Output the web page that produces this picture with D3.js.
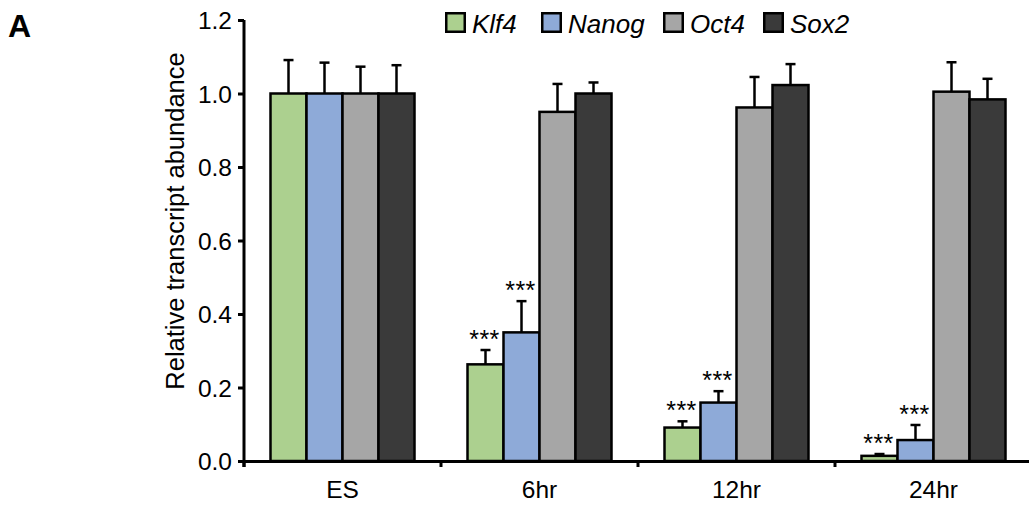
<!DOCTYPE html>
<html>
<head>
<meta charset="utf-8">
<script src="https://cdn.jsdelivr.net/npm/d3@7"></script>
<style>
  body { margin: 0; background: #fff; }
  svg { display: block; font-family: "Liberation Sans", Arial, sans-serif; }
</style>
</head>
<body>
<svg id="chart" width="1029" height="506"></svg>
<script>
// data
const groups = ['ES', '6hr', '12hr', '24hr'];
const genes = ['Klf4', 'Nanog', 'Oct4', 'Sox2'];
const colors = ['#acd08f', '#8eaad8', '#a6a6a6', '#3a3a3a'];
// mean per gene, one array per time point
const means = [
  [1.0, 1.0, 1.0, 1.0],
  [0.263, 0.350, 0.950, 1.0],
  [0.091, 0.159, 0.962, 1.023],
  [0.014, 0.057, 1.005, 0.984]
];
// top of error bar (mean + sd)
const errTops = [
  [1.091, 1.084, 1.073, 1.077],
  [0.302, 0.435, 1.026, 1.030],
  [0.108, 0.190, 1.045, 1.080],
  [0.019, 0.098, 1.085, 1.040]
];
const stars = [
  ['', '', '', ''],
  ['***', '***', '', ''],
  ['***', '***', '', ''],
  ['***', '***', '', '']
];
const yTicks = [0, 0.2, 0.4, 0.6, 0.8, 1.0, 1.2];

const svg = d3.select('#chart');

const x = d3.scaleBand().domain(groups).range([244, 1032]).padding(0);
const xi = d3.scaleBand().domain(genes).range([26.5, x.bandwidth() - 26.5]).padding(0);
const y = d3.scaleLinear().domain([0, 1.2]).range([461, 20]);

const rows = [];
groups.forEach((g, gi) => {
  genes.forEach((k, ki) => {
    rows.push({ g, k, ki, v: means[gi][ki], e: errTops[gi][ki], s: stars[gi][ki] });
  });
});

// error bars (upper only)
const err = svg.append('g').attr('stroke', '#000').attr('stroke-width', 2.5);
rows.forEach(d => {
  const cx = x(d.g) + xi(d.k) + xi.bandwidth() / 2;
  err.append('line').attr('x1', cx).attr('x2', cx).attr('y1', y(d.v)).attr('y2', y(d.e));
  err.append('line').attr('x1', cx - 5).attr('x2', cx + 5).attr('y1', y(d.e)).attr('y2', y(d.e));
});

// bars
svg.append('g')
  .selectAll('rect')
  .data(rows)
  .join('rect')
  .attr('x', d => x(d.g) + xi(d.k))
  .attr('y', d => y(d.v))
  .attr('width', xi.bandwidth())
  .attr('height', d => y(0) - y(d.v))
  .attr('fill', d => colors[d.ki])
  .attr('stroke', '#000')
  .attr('stroke-width', 2.5);

// significance stars
svg.append('g')
  .selectAll('text')
  .data(rows.filter(d => d.s))
  .join('text')
  .attr('x', d => x(d.g) + xi(d.k) + xi.bandwidth() / 2 - 1)
  .attr('y', d => y(d.e) - 2)
  .attr('text-anchor', 'middle')
  .attr('font-size', 25)
  .attr('letter-spacing', 0.5)
  .text(d => d.s);

// y axis
const yAxis = svg.append('g')
  .attr('transform', 'translate(244,0)')
  .call(d3.axisLeft(y).tickValues(yTicks).tickFormat(d3.format('.1f')).tickSize(6).tickPadding(6));
yAxis.select('.domain').attr('stroke-width', 3).attr('d', `M0,${y(1.2)}V467`);
yAxis.selectAll('.tick line').attr('stroke-width', 3);
yAxis.selectAll('.tick text').attr('font-size', 24.5).attr('fill', '#000').attr('dy', '0.36em');

// x axis
const xAxis = svg.append('g')
  .attr('transform', `translate(0,${y(0)})`)
  .call(d3.axisBottom(x).tickSize(0));
xAxis.select('.domain').attr('stroke-width', 3);
xAxis.selectAll('.tick text').attr('font-size', 24.5).attr('fill', '#000').attr('dy', 0).attr('y', 37);
xAxis.append('g')
  .selectAll('line')
  .data(groups)
  .join('line')
  .attr('x1', d => x(d)).attr('x2', d => x(d))
  .attr('y1', 0).attr('y2', 6)
  .attr('stroke', '#000').attr('stroke-width', 3);

// y label
svg.append('text')
  .attr('transform', 'translate(184,221) rotate(-90)')
  .attr('text-anchor', 'middle')
  .attr('font-size', 25.5)
  .text('Relative transcript abundance');

// panel letter
svg.append('text')
  .attr('x', 8).attr('y', 37)
  .attr('font-size', 32)
  .attr('font-weight', 'bold')
  .text('A');

// legend
const legendX = [445, 541, 663, 763];
const lg = svg.append('g');
genes.forEach((k, i) => {
  lg.append('rect')
    .attr('x', legendX[i] + 1.25).attr('y', 13.25)
    .attr('width', 18.5).attr('height', 18.5)
    .attr('fill', colors[i]).attr('stroke', '#000').attr('stroke-width', 2.5);
  lg.append('text')
    .attr('x', legendX[i] + 27).attr('y', 33)
    .attr('font-size', 26)
    .attr('font-style', 'italic')
    .text(k);
});
</script>
</body>
</html>
